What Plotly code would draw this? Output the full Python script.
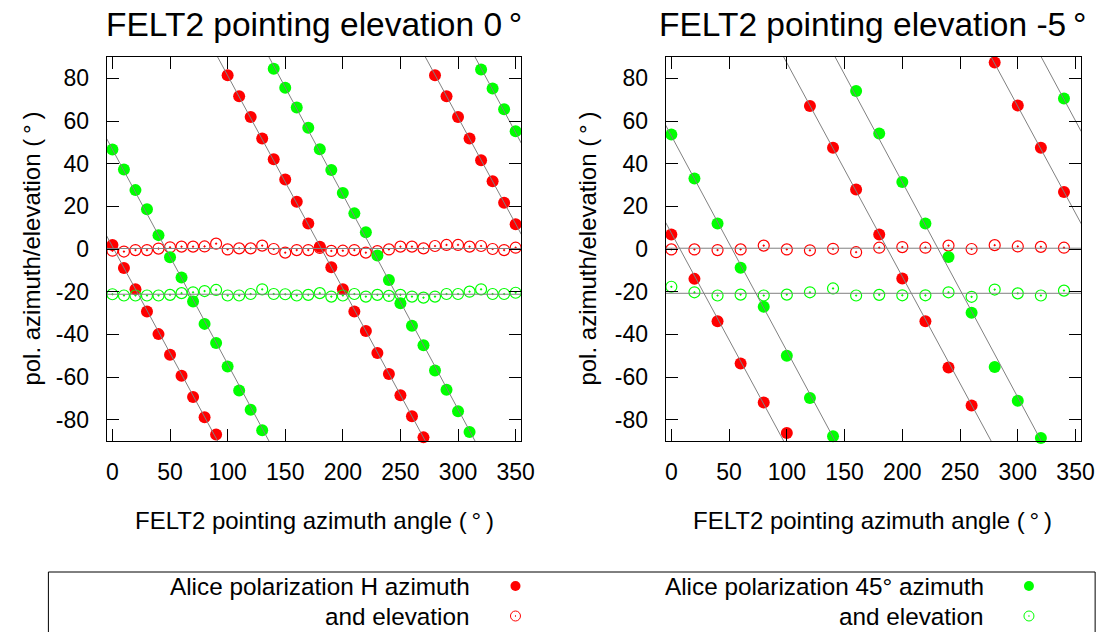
import numpy as np
import plotly.graph_objects as go

# ---------------- data ----------------
left_x = [0, 10, 20, 30, 40, 50, 60, 70, 80, 90, 100, 110, 120, 130, 140, 150, 160, 170,
          180, 190, 200, 210, 220, 230, 240, 250, 260, 270, 280, 290, 300, 310, 320, 330, 340, 350]
left_red_az = [1.9, -8.9, -18.9, -29.3, -39.9, -49.6, -59.4, -69.4, -78.9, -87.0,
               81.4, 71.6, 61.9, 51.8, 42.1, 32.6, 22.1, 12.0, 1.1, -8.6,
               -18.9, -29.3, -38.4, -48.8, -58.6, -68.6, -78.4, -88.3,
               81.4, 71.6, 61.9, 51.8, 41.6, 31.8, 21.7, 11.6]
left_red_el = [-0.8, -1.2, -0.5, -0.5, 0.2, 0.8, 1.1, 1.1, 1.2, 2.5,
               -0.2, 0.3, 0.3, 1.6, 0.0, -1.7, -0.5, -0.5, 0.5, -0.9,
               -0.8, -0.5, -1.7, -1.0, -0.2, 1.1, 1.1, 0.3, 1.4, 1.9,
               1.9, 1.1, 1.4, 0.0, -0.5, 0.6]
left_green_az = [46.6, 37.3, 27.6, 18.6, 6.5, -3.9, -13.4, -24.6, -35.1, -44.1, -55.1, -66.3, -75.3, -85.0,
                 84.5, 75.6, 66.3, 56.8, 46.8, 37.0, 26.3, 16.7, 7.8, -3.1, -14.5, -25.4, -36.0, -45.1,
                 -56.9, -66.0, -76.1, -85.8,
                 84.1, 75.2, 65.5, 55.2]
left_green_el = [-21.2, -21.8, -21.8, -21.8, -21.8, -21.5, -20.7, -20.3, -19.7, -19.2,
                 -21.8, -21.8, -21.1, -18.9, -21.1, -21.2, -21.8, -21.5, -20.7, -22.3,
                 -21.8, -21.1, -22.3, -21.5, -22.0, -21.5, -22.3, -22.8, -22.3, -21.1,
                 -21.1, -20.0, -18.9, -21.1, -21.1, -20.5]

right_x = [0, 20, 40, 60, 80, 100, 120, 140, 160, 180, 200, 220, 240, 260, 280, 300, 320, 340]
right_red_az = [6.8, -14.0, -33.9, -53.7, -71.9, -86.3, 67.0, 47.5, 27.9, 6.8,
                -13.8, -33.9, -55.5, -73.4, 87.4, 67.3, 47.5, 26.7]
right_red_el = [-0.2, -0.2, -0.5, -0.2, 1.6, -0.2, -0.6, 0.1, -1.5, 0.6,
                0.9, 0.6, 1.6, 0.0, 1.8, 1.2, 1.0, 0.6]
right_green_az = [53.7, 33.1, 12.0, -8.8, -27.1, -50.0, -69.8, -87.8, 74.1, 54.1,
                  31.4, 12.0, -3.7, -29.9, -55.3, -71.1, -88.6, 70.5]
right_green_el = [-17.7, -20.3, -21.8, -21.4, -21.8, -21.4, -20.3, -18.5, -21.8, -21.5,
                  -21.7, -21.7, -20.3, -22.4, -19.0, -20.8, -21.8, -19.5]

x_ticks = [0, 50, 100, 150, 200, 250, 300, 350]
y_ticks = [-80, -60, -40, -20, 0, 20, 40, 60, 80]
y_tick_text = ["-80", "-60", "-40", "-20", "0", "20", "40", "60", "80"]
x_range = [-5, 355]
y_range = [-90, 90]

titles = ["FELT2 pointing elevation 0\u2009°", "FELT2 pointing elevation -5\u2009°"]
x_title = "FELT2 pointing azimuth angle (\u2009°\u2009)"
y_title = "pol. azimuth/elevation (\u2009°\u2009)"
legend_labels = ["Alice polarization H azimuth", "and elevation",
                 "Alice polarization 45° azimuth", "and elevation"]

# ---------------- styling ----------------
W, H = 1118, 632
FONT = "Liberation Sans"
RED = "#ff0000"
GREEN = "#00ff00"
GRAY = "#808080"


def px(x):
    return x / W


def py(y):
    return 1 - y / H


fig = go.Figure()


def wrapped_fit(xs, ys):
    u = np.unwrap(np.array(ys, dtype=float), period=180)
    m, b = np.polyfit(np.array(xs, dtype=float), u, 1)
    X, Y = [], []
    for k in range(-4, 5):
        X += [x_range[0], x_range[1], None]
        Y += [m * x_range[0] + b + 180 * k, m * x_range[1] + b + 180 * k, None]
    return X, Y


def flat_fit(ys):
    c = float(np.mean(ys))
    return list(x_range), [c, c]


def add_panel(xs, raz, rel, gaz, gel, xa, ya):
    common = dict(mode="markers", xaxis=xa, yaxis=ya, cliponaxis=False, showlegend=False)
    fig.add_trace(go.Scatter(x=xs, y=raz, marker=dict(symbol="circle", size=12, color=RED,
                                                      line=dict(width=0)), **common))
    fig.add_trace(go.Scatter(x=xs, y=rel, marker=dict(symbol="circle-open-dot", size=11, color=RED,
                                                      line=dict(width=1.2)), **common))
    fig.add_trace(go.Scatter(x=xs, y=gaz, marker=dict(symbol="circle", size=12, color=GREEN,
                                                      line=dict(width=0)), **common))
    fig.add_trace(go.Scatter(x=xs, y=gel, marker=dict(symbol="circle-open-dot", size=11, color=GREEN,
                                                      line=dict(width=1.2)), **common))
    for X, Y in (wrapped_fit(xs, raz), wrapped_fit(xs, gaz), flat_fit(rel), flat_fit(gel)):
        fig.add_trace(go.Scatter(x=X, y=Y, mode="lines", line=dict(color=GRAY, width=1),
                                 xaxis=xa, yaxis=ya, showlegend=False, hoverinfo="skip"))


add_panel(left_x, left_red_az, left_red_el, left_green_az, left_green_el, "x", "y")
add_panel(right_x, right_red_az, right_red_el, right_green_az, right_green_el, "x2", "y2")

# legend symbols on an invisible overlay axis (paper-like coordinates)
leg_sym_x = [px(521), px(521), px(1041), px(1041)]
leg_sym_y = [py(586), py(616), py(586), py(616)]
leg_symbols = ["circle", "circle-open-dot", "circle", "circle-open-dot"]
leg_colors = [RED, RED, GREEN, GREEN]
leg_lw = [0, 1, 0, 1]
for sx, sy, sym, col, lw in zip(leg_sym_x, leg_sym_y, leg_symbols, leg_colors, leg_lw):
    fig.add_trace(go.Scatter(x=[sx], y=[sy], mode="markers", xaxis="x3", yaxis="y3",
                             marker=dict(symbol=sym, size=10, color=col, line=dict(width=lw)),
                             showlegend=False, cliponaxis=False))

axis_font = dict(family=FONT, size=23, color="black")
xcommon = dict(range=x_range, tickvals=x_ticks, ticks="inside", ticklen=12, tickwidth=1,
               tickcolor="black", mirror="ticks", showline=True, linecolor="black", linewidth=1,
               showgrid=False, zeroline=False, tickfont=axis_font, ticklabelstandoff=10)
ycommon = dict(range=y_range, tickvals=y_ticks, ticktext=y_tick_text, ticks="inside", ticklen=12,
               tickwidth=1, tickcolor="black", mirror="ticks", showline=True, linecolor="black",
               linewidth=1, showgrid=False, zeroline=False, tickfont=axis_font, ticklabelstandoff=12)

ydom = [py(441), py(57)]
fig.update_layout(
    width=W, height=H, autosize=False,
    margin=dict(l=0, r=0, t=0, b=0),
    paper_bgcolor="white", plot_bgcolor="rgba(0,0,0,0)",
    showlegend=False,
    font=dict(family=FONT, color="black"),
    xaxis=dict(domain=[px(107), px(527)], anchor="y", **xcommon),
    yaxis=dict(domain=ydom, anchor="x", **ycommon),
    xaxis2=dict(domain=[px(673), px(1094)], anchor="y2", **xcommon),
    yaxis2=dict(domain=ydom, anchor="x2", **ycommon),
    xaxis3=dict(domain=[0, 1], range=[0, 1], anchor="y3", visible=False, fixedrange=True),
    yaxis3=dict(domain=[0, 1], range=[0, 1], anchor="x3", visible=False, fixedrange=True),
)

annotations = []
for cx, t in ((317, titles[0]), (883, titles[1])):
    annotations.append(dict(text=t, x=px(cx), y=py(25), xref="paper", yref="paper",
                            xanchor="center", yanchor="middle", showarrow=False,
                            font=dict(family=FONT, size=33.5, color="black")))
for cx in (317, 883):
    annotations.append(dict(text=x_title, x=px(cx), y=py(520), xref="paper", yref="paper",
                            xanchor="center", yanchor="middle", showarrow=False,
                            font=dict(family=FONT, size=24, color="black")))
for cx in (30, 593):
    annotations.append(dict(text=y_title, x=px(cx), y=py(249), xref="paper", yref="paper",
                            xanchor="center", yanchor="middle", showarrow=False, textangle=-90,
                            font=dict(family=FONT, size=24, color="black")))
leg_text_x = [px(477), px(477), px(997), px(997)]
for tx, ty, lab in zip(leg_text_x, leg_sym_y, legend_labels):
    annotations.append(dict(text=lab, x=tx, y=ty, xref="paper", yref="paper",
                            xanchor="right", yanchor="middle", showarrow=False,
                            font=dict(family=FONT, size=24.3, color="black")))
fig.update_layout(annotations=annotations)

# legend frame: open at the bottom (runs off the picture)
x0, x1, yt, yb = px(48), px(1108), py(572), 0.0
fig.add_shape(type="path", xref="paper", yref="paper",
              path=f"M {x0} {yb} L {x0} {yt} L {x1} {yt} L {x1} {yb}",
              line=dict(color="black", width=1), layer="above")

fig.write_html("out.html", config={"responsive": False})
